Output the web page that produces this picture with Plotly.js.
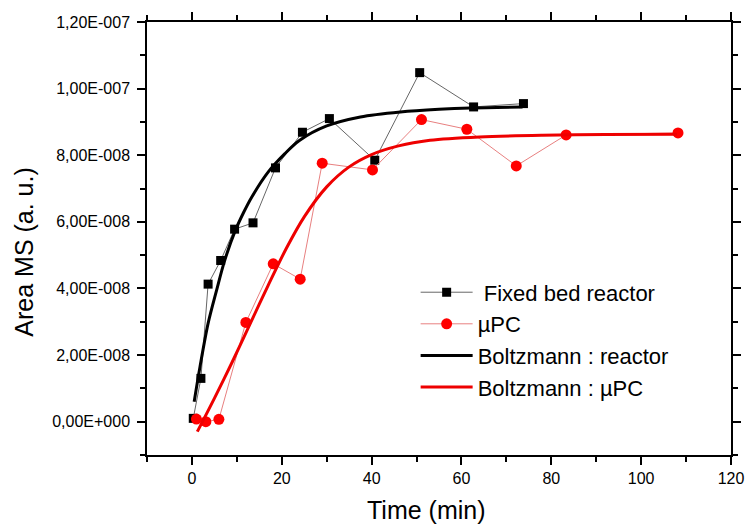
<!DOCTYPE html>
<html>
<head>
<meta charset="utf-8">
<script src="https://cdn.plot.ly/plotly-3.0.1.min.js"></script>
<style>html,body{margin:0;padding:0;background:#fff;}#chart{width:747px;height:524px;}</style>
</head>
<body>
<div id="chart"></div>
<script>
// Fixed bed reactor measurements (time in min, area in a.u.)
const reactorTime = [0.3, 2.0, 3.6, 6.4, 9.5, 13.6, 18.6, 24.6, 30.6, 40.7, 50.7, 62.7, 73.8];
const reactorArea = [0.10e-8, 1.30e-8, 4.13e-8, 4.84e-8, 5.78e-8, 5.97e-8, 7.62e-8, 8.69e-8, 9.10e-8, 7.85e-8, 10.48e-8, 9.45e-8, 9.55e-8];

// µPC measurements
const upcTime = [1.0, 3.1, 6.0, 12.0, 18.1, 24.1, 29.0, 40.2, 51.1, 61.2, 72.2, 83.3, 108.2];
const upcArea = [0.08e-8, 0.0e-8, 0.07e-8, 2.98e-8, 4.74e-8, 4.28e-8, 7.76e-8, 7.56e-8, 9.07e-8, 8.78e-8, 7.68e-8, 8.61e-8, 8.67e-8];

// Boltzmann fit curves
const fitReactorTime = [0.5, 1.8, 3.6, 5.5, 7.2, 9.6, 11.5, 13.3, 17.0, 20.7, 24.0, 30.0, 37.5, 46.4, 55.0, 62.0, 73.6];
const fitReactorArea = [0.6e-8, 1.65e-8, 2.95e-8, 3.95e-8, 4.8e-8, 5.72e-8, 6.28e-8, 6.74e-8, 7.5e-8, 8.05e-8, 8.45e-8, 8.88e-8, 9.15e-8, 9.3e-8, 9.38e-8, 9.42e-8, 9.45e-8];
const fitUpcTime = [1.2, 5.0, 9.0, 13.0, 17.0, 21.0, 25.0, 30.0, 35.0, 40.0, 46.0, 53.0, 64.0, 78.0, 92.0, 108.0];
const fitUpcArea = [-0.3e-8, 0.7e-8, 1.8e-8, 2.95e-8, 4.1e-8, 5.2e-8, 6.15e-8, 7.05e-8, 7.65e-8, 8.02e-8, 8.28e-8, 8.45e-8, 8.55e-8, 8.6e-8, 8.62e-8, 8.63e-8];

// Axis ticks
const xTickVals = [0, 20, 40, 60, 80, 100, 120];
const xTickText = ['0', '20', '40', '60', '80', '100', '120'];
const yTickVals = [0, 2e-8, 4e-8, 6e-8, 8e-8, 1e-7, 1.2e-7];
const yTickText = ['0,00E+000', '2,00E-008', '4,00E-008', '6,00E-008', '8,00E-008', '1,00E-007', '1,20E-007'];

const seriesNames = ['\u00a0Fixed bed reactor', '\u00b5PC', 'Boltzmann : reactor', 'Boltzmann : \u00b5PC'];
const xTitle = 'Time (min)';
const yTitle = 'Area MS (a. u.)';

const FONT = 'Liberation Sans, Arial, sans-serif';
const xRange = [-10, 120];
const yRange = [-1e-8, 1.2e-7];

const traces = [
  {x: reactorTime, y: reactorArea, name: seriesNames[0], mode: 'lines+markers',
   line: {color: '#666666', width: 1}, marker: {symbol: 'square', size: 9, color: '#000000'}},
  {x: upcTime, y: upcArea, name: seriesNames[1], mode: 'lines+markers',
   line: {color: '#e88080', width: 1}, marker: {symbol: 'circle', size: 11, color: '#ff0000'}},
  {x: fitReactorTime, y: fitReactorArea, name: seriesNames[2], mode: 'lines',
   line: {color: '#000000', width: 3, shape: 'spline', smoothing: 0.9}},
  {x: fitUpcTime, y: fitUpcArea, name: seriesNames[3], mode: 'lines',
   line: {color: '#ee0000', width: 3, shape: 'spline', smoothing: 0.9}}
];

const axCommon = {showgrid: false, zeroline: false, linecolor: '#000', linewidth: 1.5, tickcolor: '#000', tickwidth: 1.5, fixedrange: true};

const layout = {
  width: 747, height: 524,
  margin: {l: 147, r: 16, t: 22, b: 69, pad: 0},
  paper_bgcolor: '#fff', plot_bgcolor: '#fff',
  font: {family: FONT, color: '#000', size: 16},
  showlegend: true,
  hovermode: false,
  legend: {x: 0.46, y: 0.424, xanchor: 'left', yanchor: 'top', bgcolor: 'rgba(0,0,0,0)',
           font: {family: FONT, size: 22, color: '#000'}, traceorder: 'normal', itemwidth: 52},
  xaxis: Object.assign({}, axCommon, {range: xRange, showline: true, mirror: 'ticks', ticks: 'outside', ticklen: 8,
    tickvals: xTickVals, ticktext: xTickText,
    minor: {dtick: 10, tick0: 0, ticks: 'outside', ticklen: 5, tickcolor: '#000', tickwidth: 1.5},
    tickfont: {size: 16}, automargin: false}),
  yaxis: Object.assign({}, axCommon, {range: yRange, showline: true, mirror: 'ticks', ticks: 'outside', ticklen: 8,
    tickvals: yTickVals, ticktext: yTickText,
    minor: {dtick: 1e-8, tick0: 0, ticks: 'outside', ticklen: 5, tickcolor: '#000', tickwidth: 1.5},
    tickfont: {size: 16}, ticklabelstandoff: 4, automargin: false}),
  annotations: [
    {text: xTitle, xref: 'paper', yref: 'paper', x: 0.478, y: -0.128, xanchor: 'center', yanchor: 'middle',
     showarrow: false, font: {family: FONT, size: 25, color: '#000'}},
    {text: yTitle, xref: 'paper', yref: 'paper', x: -0.211, y: 0.469, xanchor: 'center', yanchor: 'middle',
     textangle: -90, showarrow: false, font: {family: FONT, size: 25, color: '#000'}}
  ]
};

Plotly.newPlot('chart', traces, layout, {displayModeBar: false, responsive: false});
</script>
</body>
</html>
